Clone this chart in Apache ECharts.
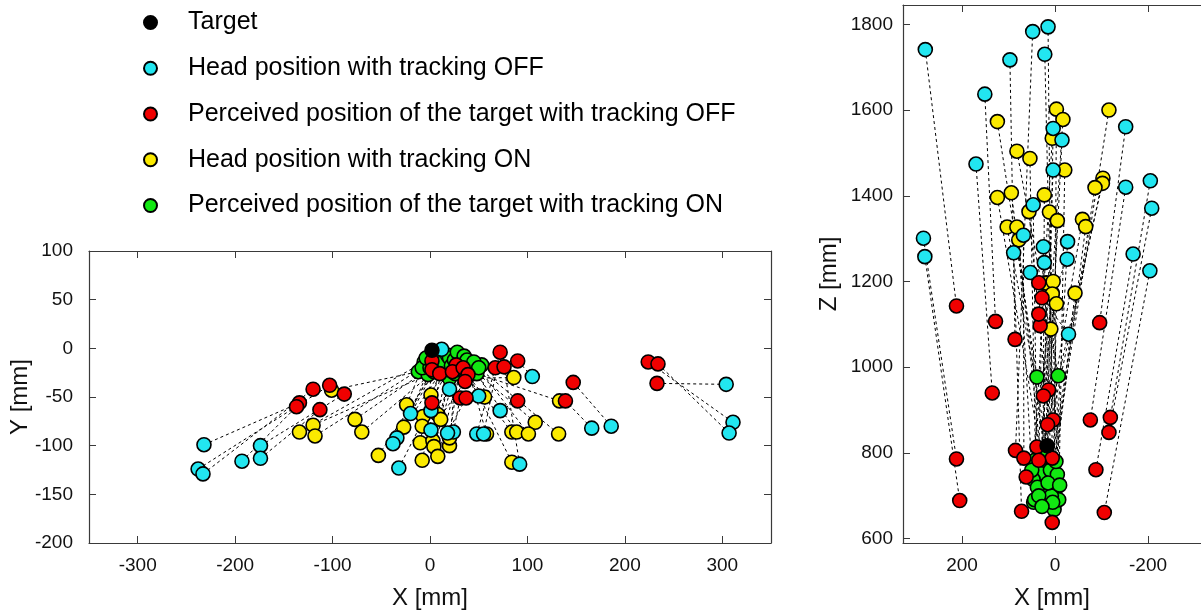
<!DOCTYPE html>
<html><head><meta charset="utf-8">
<script src="https://cdn.jsdelivr.net/npm/echarts@6/dist/echarts.min.js"></script>
<style>html,body{margin:0;padding:0;background:#fff}#c{width:1201px;height:610px}</style>
</head><body><div id="c"></div>
<script>
// ---------- Front view (X–Y) [mm] ----------
const targetXY = [[2,-2]];
const headOffXY = [[-232,-99],[-238,-124],[-233,-129],[-193,-116],[-174,-100],[-174,-113],[-20,-67],[-34,-92],[-38,-98],[-32,-123],[12,-1],[20,-42],[50,-49],[72,-64],[1,-64],[1,-84],[24,-86],[18,-87],[48,-88],[55,-88],[92,-119],[105,-29],[166,-82],[186,-80],[304,-37],[311,-76],[307,-87]];
const percOffXY = [[-134,-56],[-103,-38],[-120,-42],[-137,-60],[-88,-47],[-113,-63],[2,-13],[2,-22],[10,-26],[2,-56],[27,-17],[23,-24],[34,-20],[90,-54],[39,-27],[36,-34],[31,-51],[37,-51],[67,-20],[72,-4],[76,-19],[90,-13],[139,-54],[147,-35],[233,-36],[224,-14],[234,-16]];
const headOnXY = [[-101,-43],[-134,-86],[-120,-79],[-118,-90],[-77,-73],[-70,-86],[-53,-110],[-24,-58],[-27,-81],[-10,-97],[-8,-115],[-7,-70],[-8,-80],[86,-30],[56,-50],[1,-48],[8,-68],[11,-73],[3,-95],[4,-101],[20,-100],[20,-92],[8,-111],[58,-88],[84,-86],[89,-86],[84,-117],[133,-54],[108,-76],[101,-88],[132,-88]];
const percOnXY = [[-12,-24],[-6,-14],[-2,-27],[-8,-20],[0,-20],[4,-24],[8,-18],[-4,-10],[10,-12],[5,-9],[12,-22],[16,-27],[14,-14],[20,-31],[53,-17],[18,-7],[20,-10],[22,-18],[25,-12],[26,-26],[28,-4],[30,-22],[32,-15],[35,-8],[36,-24],[38,-12],[40,-28],[48,-26],[42,-20],[45,-14],[50,-20]];

// ---------- Top view (X–Z) [mm] ----------
const targetXZ = [[17,817]];
const headOffXZ = [[279,1741],[48,1783],[15,1794],[22,1730],[97,1717],[151,1637],[170,1474],[283,1301],[280,1258],[47,1379],[68,1308],[89,1267],[25,1281],[4,1557],[-15,1530],[-152,1561],[4,1460],[-152,1420],[-205,1435],[-208,1371],[-27,1293],[-26,1252],[23,1244],[-168,1264],[-204,1225],[53,1221],[-29,1077]];
const percOffXZ = [[212,1143],[85,806],[6,788],[4,877],[86,1065],[128,1107],[135,940],[212,786],[205,689],[39,814],[67,788],[72,664],[35,783],[14,947],[16,866],[-96,1104],[25,933],[-76,877],[-119,883],[-116,848],[6,638],[32,1097],[35,1124],[-88,761],[-106,661],[35,1197],[28,1162],[62,744]];
const headOnXZ = [[124,1573],[82,1504],[54,1487],[124,1396],[94,1407],[56,1363],[23,1402],[103,1327],[82,1327],[78,1297],[-3,1602],[-17,1578],[6,1534],[-116,1600],[-21,1460],[-103,1441],[-102,1429],[-86,1419],[12,1362],[-5,1342],[-59,1345],[-66,1328],[-43,1173],[19,1197],[6,1173],[18,1196],[4,1200],[6,1171],[-3,1148],[9,1089]];
const percOnXZ = [[39,977],[-7,980],[42,784],[26,769],[16,745],[2,738],[26,728],[-1,716],[21,695],[46,685],[2,668],[33,753],[47,738],[12,722],[-8,691],[44,691],[30,800],[10,760],[-5,750],[20,710],[38,720],[8,700],[-2,780],[24,790],[50,760],[15,730],[-10,725],[35,700],[5,685],[28,675]];

// ---------- Ticks ----------
const xTicksFront = [-300,-200,-100,0,100,200,300];
const xTicksTop = [-200,0,200];
const zTicksTop = [600,800,1000,1200,1400,1600,1800];

const names = ['Target','Head position with tracking OFF','Perceived position of the target with tracking OFF','Head position with tracking ON','Perceived position of the target with tracking ON'];
const colors = ['#000000','#22e6f0','#f00000','#fbea00','#12e812'];
const FONT = 'Liberation Sans, Arial, sans-serif';
const AX = '#3a3a3a';

function pairs(a,b){const n=Math.min(a.length,b.length);const r=[];for(let i=0;i<n;i++)r.push({coords:[a[i],b[i]]});return r;}

function scat(nameIdx, data, xi, yi, z){
  return {type:'scatter', name:names[nameIdx], data, xAxisIndex:xi, yAxisIndex:yi, symbol:'circle', symbolSize:14, z,
    itemStyle:{color:colors[nameIdx], borderColor:'#000', borderWidth:1.6, opacity:1}, emphasis:{disabled:true}};
}
function lns(data, xi, yi){
  return {type:'lines', coordinateSystem:'cartesian2d', xAxisIndex:xi, yAxisIndex:yi, data, z:1, silent:true,
    lineStyle:{color:'#000', width:1, type:[3,3], opacity:1}, symbol:'none'};
}
const tickCommon = {show:true, inside:true, length:7, lineStyle:{color:AX, width:1}};
const lineCommon = {show:true, onZero:false, lineStyle:{color:AX, width:1.2}};
const fmt = v => String(v);
const lbl = {fontSize:19, color:'#111', fontFamily:FONT, formatter:fmt};
const nameStyle = {fontSize:24, color:'#111', fontFamily:FONT};

const option = {
  animation:false,
  backgroundColor:'#fff',
  legend:{
    orient:'vertical', left:138, top:5, itemWidth:13, itemHeight:13, itemGap:20.75, icon:'circle',
    data:names, selectedMode:false,
    textStyle:{fontSize:25, color:'#000', fontFamily:FONT, padding:[0,0,0,26], lineHeight:25}
  },
  grid:[
    {left:89, top:251, width:682, height:292, containLabel:false, outerBoundsMode:'none'},
    {left:903, top:5, width:298, height:538, containLabel:false, outerBoundsMode:'none'}
  ],
  xAxis:[
    {type:'value', gridIndex:0, position:'bottom', min:-350, max:350, axisLine:lineCommon,
     axisTick:Object.assign({customValues:xTicksFront}, tickCommon),
     axisLabel:Object.assign({customValues:xTicksFront, margin:13}, lbl), splitLine:{show:false},
     name:'X [mm]', nameLocation:'middle', nameGap:43, nameMoveOverlap:false, nameTextStyle:nameStyle},
    {type:'value', gridIndex:0, position:'top', min:-350, max:350, axisLine:lineCommon,
     axisTick:Object.assign({customValues:xTicksFront}, tickCommon), axisLabel:{show:false}, splitLine:{show:false}},
    {type:'value', gridIndex:1, position:'bottom', inverse:true, min:-314, max:327, axisLine:lineCommon,
     axisTick:Object.assign({customValues:xTicksTop}, tickCommon),
     axisLabel:Object.assign({customValues:xTicksTop, margin:13}, lbl), splitLine:{show:false},
     name:'X [mm]', nameLocation:'middle', nameGap:43, nameMoveOverlap:false, nameTextStyle:nameStyle},
    {type:'value', gridIndex:1, position:'top', inverse:true, min:-314, max:327, axisLine:lineCommon,
     axisTick:Object.assign({customValues:xTicksTop}, tickCommon), axisLabel:{show:false}, splitLine:{show:false}}
  ],
  yAxis:[
    {type:'value', gridIndex:0, position:'left', min:-200, max:100, interval:50, axisLine:lineCommon,
     axisTick:tickCommon, axisLabel:Object.assign({margin:16}, lbl), splitLine:{show:false},
     name:'Y [mm]', nameLocation:'middle', nameGap:57, nameMoveOverlap:false, nameRotate:90, nameTextStyle:nameStyle},
    {type:'value', gridIndex:0, position:'right', min:-200, max:100, interval:50, axisLine:lineCommon,
     axisTick:tickCommon, axisLabel:{show:false}, splitLine:{show:false}},
    {type:'value', gridIndex:1, position:'left', min:590, max:1845, axisLine:lineCommon,
     axisTick:Object.assign({customValues:zTicksTop}, tickCommon),
     axisLabel:Object.assign({customValues:zTicksTop, margin:10}, lbl), splitLine:{show:false},
     name:'Z [mm]', nameLocation:'middle', nameGap:62, nameMoveOverlap:false, nameRotate:90, nameTextStyle:nameStyle}
  ],
  series:[
    lns(pairs(headOffXY, percOffXY),0,0),
    lns(pairs(headOnXY, percOnXY),0,0),
    scat(0, targetXY, 0, 0, 20),
    scat(1, headOffXY, 0, 0, 6),
    scat(2, percOffXY, 0, 0, 8),
    scat(3, headOnXY, 0, 0, 4),
    scat(4, percOnXY, 0, 0, 5),
    lns(pairs(headOffXZ, percOffXZ),2,2),
    lns(pairs(headOnXZ, percOnXZ),2,2),
    scat(3, headOnXZ, 2, 2, 4),
    scat(4, percOnXZ, 2, 2, 5),
    scat(1, headOffXZ, 2, 2, 6),
    scat(2, percOffXZ, 2, 2, 8),
    scat(0, targetXZ, 2, 2, 20)
  ]
};
const chart = echarts.init(document.getElementById('c'), null, {renderer:'canvas'});
chart.setOption(option);
</script></body></html>
